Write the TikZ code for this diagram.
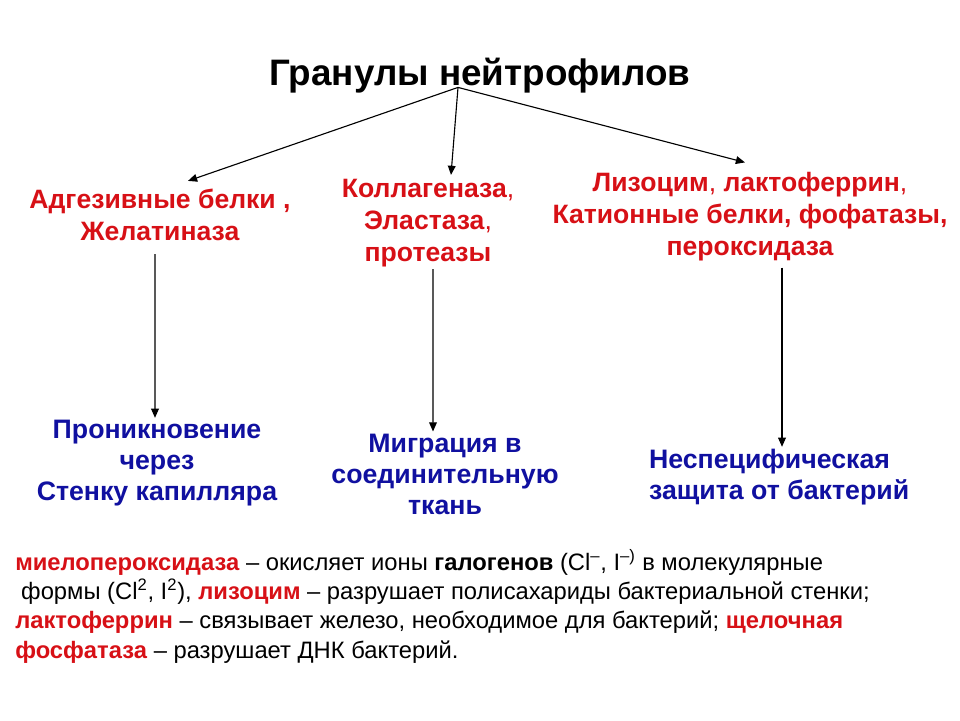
\documentclass[tikz,border=0pt]{standalone}
\usepackage{fontspec}
\setmainfont{Liberation Sans}
\usetikzlibrary{arrows.meta, positioning}

\definecolor{granred}{RGB}{215,16,22}
\definecolor{effblue}{RGB}{16,16,160}
\newcommand{\redterm}[1]{\textcolor{granred}{\textbf{#1}}}

\begin{document}
\begin{tikzpicture}[
        % Title: large black bold text
        title_lbl/.style = {inner sep=0pt, font=\fontsize{26.2}{31}\selectfont\bfseries},
        % Granule contents: red bold, centred lines
        granule/.style = {inner sep=0pt, align=center, text=granred,
                          font=\fontsize{18.9}{22.7}\selectfont\bfseries},
        % Functions of the granules: dark blue bold
        effect/.style = {inner sep=0pt, align=center, text=effblue,
                         font=\fontsize{19}{22}\selectfont\bfseries},
        % Note below the diagram
        note_txt/.style = {inner sep=0pt, align=left, font=\fontsize{16.9}{20.9}\selectfont},
        % Arrows: thin black with small triangle tip
        arrow/.style = {draw, line width=0.8pt, -{Triangle[length=6.5pt, width=5.5pt]}}
    ]
    \useasboundingbox (0,0) rectangle (24,-18);

    % --- Row 1: Title ---
    \node[title_lbl] (title) at (12,-1.9) {Гранулы нейтрофилов};
    \coordinate (split) at ([xshift=-5.5mm, yshift=1.6mm]title.south);

    % --- Row 2: Granule contents ---
    \node[granule] (adhesive) at (4.0,-5.375) {Адгезивные белки ,\\Желатиназа};
    \node[granule] (collagen) at (10.7,-5.575) {Коллагеназа{\mdseries ,}\\Эластаза{\mdseries ,}\\протеазы};
    \node[granule] (lysozyme) at (18.75,-5.425) {Лизоцим{\mdseries ,} лактоферрин{\mdseries ,}\\Катионные белки, фофатазы,\\пероксидаза};

    % --- Row 3: Functions ---
    \node[effect] (penetrate) at (3.925,-11.575) {Проникновение\\через\\Стенку капилляра};
    \node[effect] (migrate) at (11.125,-11.85) {Миграция в\\соединительную\\ткань};
    \node[effect, align=left, anchor=west] (defence) at (16.22,-11.925) {Неспецифическая\\защита от бактерий};

    % --- Row 4: Note ---
    \node[note_txt, anchor=north west] (note) at (0.375,-13.725) {%
        \redterm{миелопероксидаза} – окисляет ионы \textbf{галогенов} (Cl\textsuperscript{–}, I\textsuperscript{–)} в молекулярные\\
        \hspace*{0.25em}формы (Cl\textsuperscript{2}, I\textsuperscript{2}), \redterm{лизоцим} – разрушает полисахариды бактериальной стенки;\\
        \redterm{лактоферрин} – связывает железо, необходимое для бактерий; \redterm{щелочная}\\
        \redterm{фосфатаза} – разрушает ДНК бактерий.};

    % --- Edges (Arrows) ---
    % Title to granule groups
    \draw[arrow] (split) -- ([xshift=7mm, yshift=2mm]adhesive.north);
    \draw[arrow] (split) -- ([xshift=5.75mm, yshift=1mm]collagen.north);
    \draw[arrow] (split) -- ([xshift=-1.25mm, yshift=2.5mm]lysozyme.north);

    % Granule groups to functions
    \draw[arrow] ([xshift=-1.25mm, yshift=-3.25mm]adhesive.south) -- ([xshift=-0.5mm, yshift=0.5mm]penetrate.north);
    \draw[arrow] ([xshift=1.25mm, yshift=-0.5mm]collagen.south) -- ([xshift=-3mm, yshift=0.5mm]migrate.north);
    \draw[arrow] ([xshift=8mm, yshift=-1.5mm]lysozyme.south) -- ([xshift=8mm, yshift=0.5mm]lysozyme.south |- defence.north);

\end{tikzpicture}
\end{document}
